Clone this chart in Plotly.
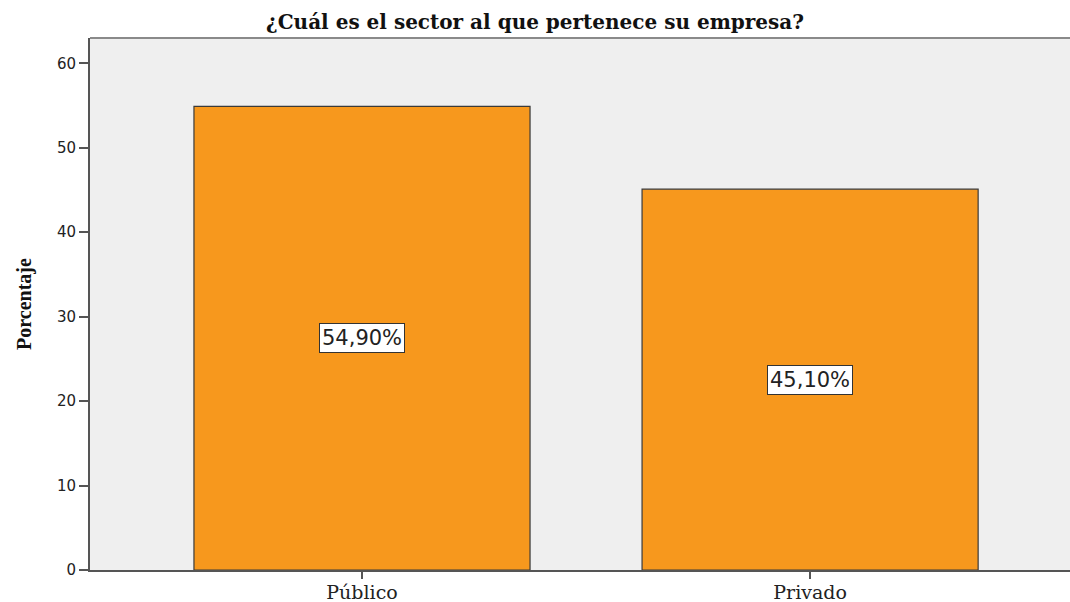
import plotly.graph_objects as go

categories = ['Público', 'Privado']
percentages = [54.9, 45.1]
value_labels = ['54,90%', '45,10%']
y_ticks = [0, 10, 20, 30, 40, 50, 60]

fig = go.Figure()

fig.add_trace(go.Bar(
    x=categories,
    y=percentages,
    width=0.75,
    marker=dict(color='#F7981D', line=dict(color='#3a3a3a', width=1.2)),
    hoverinfo='skip',
))

# white boxed labels in the middle of each bar
for cat, val, lab in zip(categories, percentages, value_labels):
    fig.add_annotation(
        x=cat, y=val / 2, text=lab, showarrow=False,
        font=dict(family='DejaVu Sans', size=21, color='#222'),
        bgcolor='white', bordercolor='#333', borderwidth=1, borderpad=2,
    )

fig.update_layout(
    width=1070, height=602,
    margin=dict(l=90, r=0, t=38, b=32),
    paper_bgcolor='white',
    plot_bgcolor='#EFEFEF',
    showlegend=False,
    title=dict(
        text='<b>¿Cuál es el sector al que pertenece su empresa?</b>',
        x=0.5, xanchor='center', y=0.963, yanchor='middle',
        font=dict(family='DejaVu Serif', size=20, color='#111'),
    ),
    xaxis=dict(
        range=[-0.607, 1.58],
        automargin=False,
        showline=True, linecolor='#555', linewidth=2,
        ticks='outside', ticklen=7, tickcolor='#555', tickwidth=2,
        ticklabelstandoff=-3,
        tickfont=dict(family='DejaVu Serif', size=19, color='#222'),
        showgrid=False,
    ),
    yaxis=dict(
        range=[0, 63],
        tickvals=y_ticks,
        automargin=False,
        showline=True, linecolor='#555', linewidth=2,
        ticks='outside', ticklen=9, tickcolor='#555', tickwidth=2,
        tickfont=dict(family='DejaVu Sans', size=15, color='#222'),
        showgrid=False, zeroline=False,
        title=dict(text='<b>Porcentaje</b>', standoff=20,
                   font=dict(family='Liberation Serif', size=20, color='#111')),
    ),
    shapes=[dict(type='line', xref='paper', yref='paper', x0=0, x1=1, y0=1, y1=1,
                 line=dict(color='#8a8a8a', width=2))],
)

fig.write_html("out.html", config={'displayModeBar': False},
               post_script="document.body.style.margin='0';")
